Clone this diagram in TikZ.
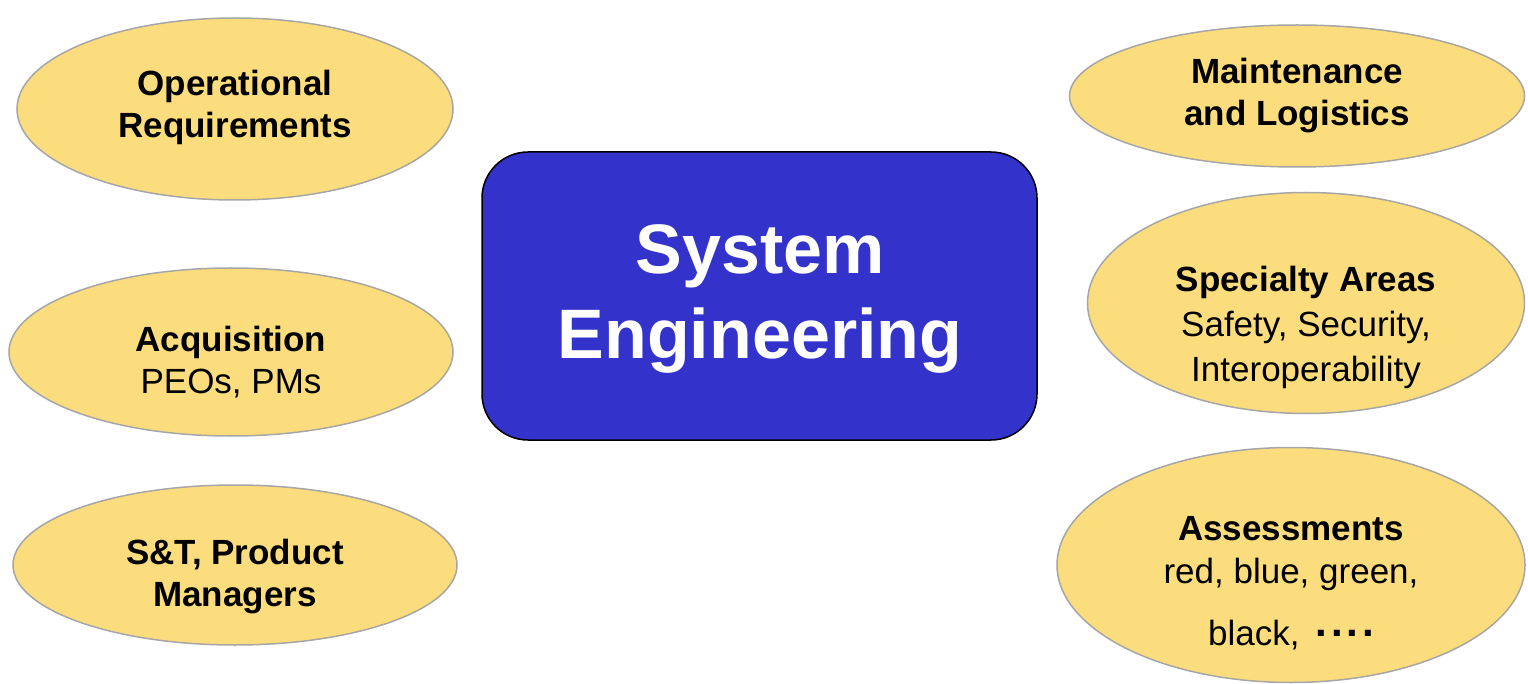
\documentclass[tikz,border=0pt]{standalone}
\usepackage{fontspec}
\setmainfont{Liberation Sans}
\usetikzlibrary{shapes.geometric}
\definecolor{petal}{HTML}{FCDD7E}
\definecolor{petalrim}{HTML}{A6A6A6}
\definecolor{corefill}{HTML}{3333CC}
\tikzset{
  petal/.style={ellipse, draw=petalrim, line width=1.5pt, fill=petal, inner sep=0pt},
  core/.style={draw=black, line width=1.5pt, fill=corefill, rounded corners=46pt},
  lbl/.style={font=\fontsize{35}{42}\selectfont, text=black, inner sep=0pt, align=center},
  big/.style={font=\bfseries\fontsize{70}{85}\selectfont, text=white, inner sep=0pt, align=center}
}
\newcommand{\dotrun}{\raisebox{0.24em}{\bfseries\fontsize{42}{42}\selectfont .\hspace{4pt}.\hspace{4pt}.\hspace{4pt}.}}
\begin{document}
\begin{tikzpicture}[x=1pt,y=-1pt]
\useasboundingbox (0,0) rectangle (1528,684);

% central block
\draw[core] (482,152) rectangle (1037,440);
\node[big] (se) at (760,299) {System\\Engineering};

% left column
\node[petal, minimum width=436pt, minimum height=182pt] (opreq) at (235,109) {};
\node[lbl] (opreqt) at (235,107) {\bfseries Operational\\\bfseries Requirements};

\node[petal, minimum width=444pt, minimum height=168pt] (acq) at (231,352) {};
\node[lbl] (acqt) at (231,362) {\bfseries Acquisition\\PEOs, PMs};

\node[petal, minimum width=444pt, minimum height=160pt] (snt) at (235,565) {};
\node[lbl] (sntt) at (235,577) {\bfseries S\&T, Product\\\bfseries Managers};

% right column
\node[petal, minimum width=455pt, minimum height=142pt] (maint) at (1297,96) {};
\node[lbl] (maintt) at (1297,96) {\bfseries Maintenance\\\bfseries and Logistics};

\node[petal, minimum width=437pt, minimum height=221pt] (spec) at (1306,303) {};
\node[lbl, font=\fontsize{35}{45}\selectfont] (spect) at (1306,327) {\bfseries Specialty Areas\\Safety, Security,\\Interoperability};

\node[petal, minimum width=468pt, minimum height=235pt] (assess) at (1291,565) {};
\node[lbl] (assess1) at (1291,529) {\bfseries Assessments};
\node[lbl] (assess2) at (1291,574) {red, blue, green,};
\node[lbl, anchor=base west] (assess3) at (1208,645) {black, \hspace{6pt}\dotrun};
\end{tikzpicture}
\end{document}
